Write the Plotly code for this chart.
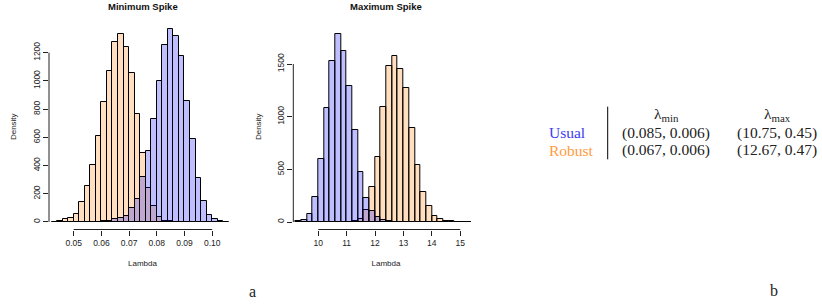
import plotly.graph_objects as go

W, H = 822, 306

# ---------------- data ----------------
# Minimum spike histogram (bin width 0.002), left edges + densities
min_robust_edges = [0.042, 0.044, 0.046, 0.048, 0.050, 0.052, 0.054, 0.056, 0.058, 0.060,
                    0.062, 0.064, 0.066, 0.068, 0.070, 0.072, 0.074, 0.076, 0.078, 0.080,
                    0.082, 0.084, 0.086, 0.088]
min_robust_density = [3, 9, 19, 31, 57, 144, 255, 404, 608, 851,
                      1073, 1276, 1333, 1239, 1054, 766, 491, 239, 111, 33,
                      10, 4, 2, 1]
min_usual_edges = [0.054, 0.056, 0.058, 0.060, 0.062, 0.064, 0.066, 0.068, 0.070, 0.072,
                   0.074, 0.076, 0.078, 0.080, 0.082, 0.084, 0.086, 0.088, 0.090, 0.092,
                   0.094, 0.096, 0.098, 0.100, 0.102, 0.104]
min_usual_density = [1, 1, 3, 5, 10, 19, 26, 45, 97, 163,
                     321, 501, 730, 1002, 1255, 1366, 1319, 1177, 856, 588,
                     314, 147, 47, 24, 9, 3]
min_bin_width = 0.002

# Maximum spike histogram (bin width 0.2)
max_usual_edges = [9.2, 9.4, 9.6, 9.8, 10.0, 10.2, 10.4, 10.6, 10.8, 11.0,
                   11.2, 11.4, 11.6, 11.8, 12.0, 12.2, 12.4, 12.6]
max_usual_density = [6, 19, 73, 241, 598, 1083, 1532, 1789, 1621, 1289,
                     871, 478, 225, 104, 45, 19, 8, 3]
max_robust_edges = [11.0, 11.2, 11.4, 11.6, 11.8, 12.0, 12.2, 12.4, 12.6, 12.8,
                    13.0, 13.2, 13.4, 13.6, 13.8, 14.0, 14.2, 14.4, 14.6, 14.8,
                    15.0, 15.2]
max_robust_density = [3, 10, 28, 114, 330, 620, 1096, 1482, 1580, 1457,
                      1270, 890, 544, 282, 155, 60, 25, 9, 5, 3,
                      2, 1]
max_bin_width = 0.2

min_xticks = [0.05, 0.06, 0.07, 0.08, 0.09, 0.10]
min_xtick_labels = ["0.05", "0.06", "0.07", "0.08", "0.09", "0.10"]
min_yticks = [0, 200, 400, 600, 800, 1000, 1200]
max_xticks = [10, 11, 12, 13, 14, 15]
max_yticks = [0, 500, 1000, 1500]

table_header = ["λ<sub>min</sub>", "λ<sub>max</sub>"]
table_rows = ["Usual", "Robust"]
table_min = ["(0.085, 0.006)", "(0.067, 0.006)"]
table_max = ["(10.75, 0.45)", "(12.67, 0.47)"]

# ---------------- style ----------------
BLUE_FILL = "rgba(0,0,255,0.25)"
ORANGE_FILL = "rgba(255,128,0,0.25)"
SANS = "Liberation Sans"
SERIF = "Liberation Serif"

def px(x):
    return x / W

def py(y):
    return 1 - y / H

fig = go.Figure()

def add_hist(edges, dens, width, fill, xa, ya):
    centers = [e + width / 2 for e in edges]
    fig.add_trace(go.Bar(x=centers, y=dens, width=width, xaxis=xa, yaxis=ya,
                         marker=dict(color=fill, line=dict(color="black", width=1)),
                         showlegend=False, hoverinfo="skip"))

add_hist(min_robust_edges, min_robust_density, min_bin_width, ORANGE_FILL, "x", "y")
add_hist(min_usual_edges, min_usual_density, min_bin_width, BLUE_FILL, "x", "y")
add_hist(max_robust_edges, max_robust_density, max_bin_width, ORANGE_FILL, "x2", "y2")
add_hist(max_usual_edges, max_usual_density, max_bin_width, BLUE_FILL, "x2", "y2")

ydom = [py(229.5), py(24)]
tickfont = dict(family=SANS, size=8.5, color="#222")
titlefont = dict(family=SANS, size=8, color="#222")

common_x = dict(showgrid=False, zeroline=False, showline=False, ticks="outside",
                ticklen=5, tickcolor="#222", tickfont=tickfont, automargin=False)
common_y = dict(showgrid=False, zeroline=False, showline=False, ticks="outside",
                ticklen=5, tickcolor="#222", tickfont=tickfont, tickangle=-90,
                automargin=False)

fig.update_layout(
    width=W, height=H, margin=dict(l=0, r=0, t=0, b=0),
    paper_bgcolor="white", plot_bgcolor="white",
    barmode="overlay", bargap=0,
    xaxis=dict(**common_x,
               domain=[px(49), px(236)], range=[0.04108, 0.1086], anchor="y",
               tickvals=min_xticks, ticktext=min_xtick_labels,
               title=dict(text="Lambda", font=titlefont, standoff=13)),
    yaxis=dict(**common_y, domain=ydom, range=[-53.2, 1403], anchor="x",
               tickvals=min_yticks,
               title=dict(text="Density", font=titlefont, standoff=13)),
    xaxis2=dict(**common_x,
                domain=[px(293.3), px(478.7)], range=[9.12, 15.65], anchor="y2",
                tickvals=max_xticks,
                title=dict(text="Lambda", font=titlefont, standoff=13)),
    yaxis2=dict(**common_y, domain=ydom, range=[-71.2, 1880], anchor="x2",
                tickvals=max_yticks,
                title=dict(text="Density", font=titlefont, standoff=13)),
)

# R-style axis lines spanning first to last tick
shapes = []
for xa, ya, xt, yt, left in [("x", "y", min_xticks, min_yticks, px(49)),
                             ("x2", "y2", max_xticks, max_yticks, px(293.3))]:
    shapes.append(dict(type="line", xref=xa, yref="paper", x0=xt[0], x1=xt[-1],
                       y0=ydom[0], y1=ydom[0], line=dict(color="#222", width=1)))
    shapes.append(dict(type="line", xref="paper", yref=ya, x0=left, x1=left,
                       y0=yt[0], y1=yt[-1], line=dict(color="#222", width=1)))
# table divider
shapes.append(dict(type="line", xref="paper", yref="paper", x0=px(607.7), x1=px(607.7),
                   y0=py(159.3), y1=py(106.7), line=dict(color="black", width=1)))
fig.update_layout(shapes=shapes)

ann = []
ann.append(dict(text="<b>Minimum Spike</b>", x=px(142.5), y=py(6), xref="paper", yref="paper",
                showarrow=False, xanchor="center", yanchor="middle",
                font=dict(family=SANS, size=9.5, color="#111")))
ann.append(dict(text="<b>Maximum Spike</b>", x=px(386), y=py(6), xref="paper", yref="paper",
                showarrow=False, xanchor="center", yanchor="middle",
                font=dict(family=SANS, size=9.5, color="#111")))

tfont = dict(family=SERIF, size=15.5, color="#222")
col_x = [666, 777]
for cx, htxt in zip(col_x, table_header):
    ann.append(dict(text=htxt, x=px(cx), y=py(114), xref="paper", yref="paper",
                    showarrow=False, xanchor="center", yanchor="middle", font=tfont))
row_y = [132.7, 150]
row_colors = ["#3B3BF0", "#FF9A40"]
for ry, name, col, vmin, vmax in zip(row_y, table_rows, row_colors, table_min, table_max):
    ann.append(dict(text=name, x=px(546.7), y=py(ry), xref="paper", yref="paper",
                    showarrow=False, xanchor="left", yanchor="middle",
                    font=dict(family=SERIF, size=15.5, color=col)))
    ann.append(dict(text=vmin, x=px(col_x[0]), y=py(ry), xref="paper", yref="paper",
                    showarrow=False, xanchor="center", yanchor="middle", font=tfont))
    ann.append(dict(text=vmax, x=px(col_x[1]), y=py(ry), xref="paper", yref="paper",
                    showarrow=False, xanchor="center", yanchor="middle", font=tfont))

ann.append(dict(text="a", x=px(252), y=py(291.5), xref="paper", yref="paper",
                showarrow=False, xanchor="center", yanchor="middle",
                font=dict(family=SERIF, size=16, color="#222")))
ann.append(dict(text="b", x=px(774), y=py(290), xref="paper", yref="paper",
                showarrow=False, xanchor="center", yanchor="middle",
                font=dict(family=SERIF, size=16, color="#222")))
fig.update_layout(annotations=ann)

fig.write_html("out.html", config={"displayModeBar": False},
               post_script="document.body.style.margin='0';")
